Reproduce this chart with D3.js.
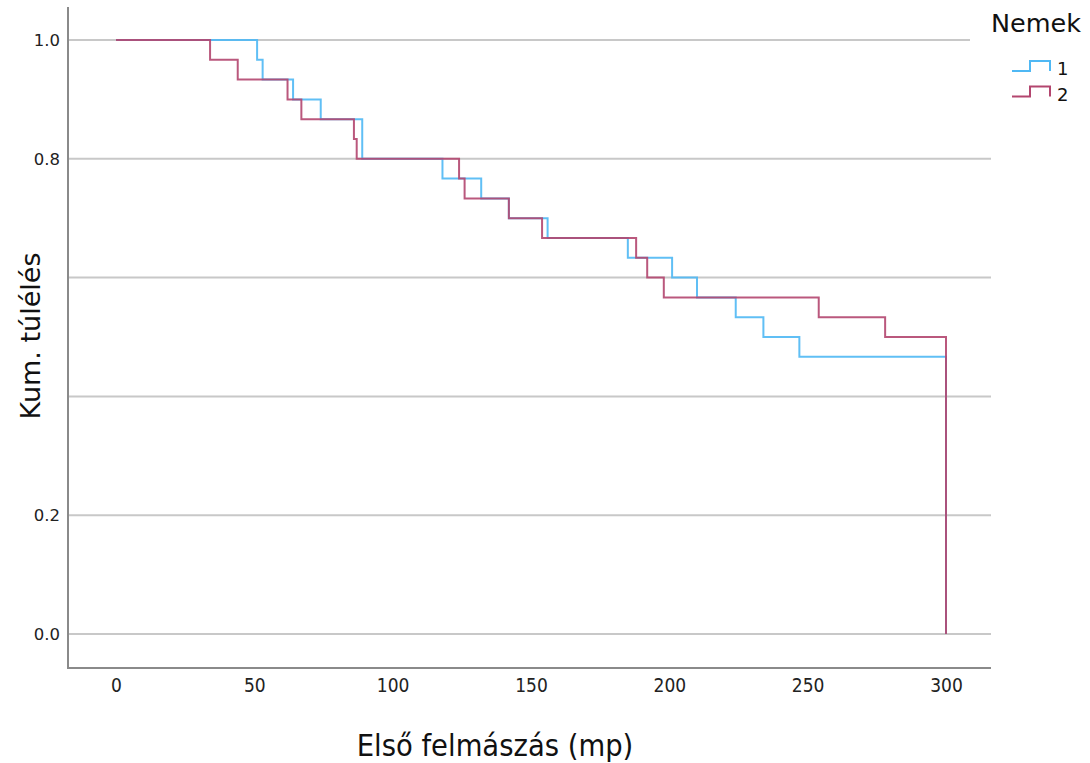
<!DOCTYPE html>
<html>
<head>
<meta charset="utf-8">
<script src="https://cdn.jsdelivr.net/npm/d3@7"></script>
<style>
  body { margin: 0; background: #fff; }
  .narrow { font-family: "DejaVu Sans Condensed", "Liberation Sans Narrow", sans-serif; }
  .wide { font-family: "DejaVu Sans", Verdana, sans-serif; }
</style>
</head>
<body>
<svg></svg>
<script>
// survival data: event time -> survival after it
let group1Times = [0, 51, 53, 64, 74, 89, 118, 132, 142, 156, 185, 201, 210, 224, 234, 247, 300];
let group1Surv  = [1.0, 0.9667, 0.9333, 0.9, 0.8667, 0.8, 0.7667, 0.7333, 0.7, 0.6667, 0.6333, 0.6, 0.5667, 0.5333, 0.5, 0.4667, 0.0];
let group2Times = [0, 34, 44, 62, 67, 86, 87, 124, 126, 142, 154, 188, 192, 198, 254, 278, 300];
let group2Surv  = [1.0, 0.9667, 0.9333, 0.9, 0.8667, 0.8333, 0.8, 0.7667, 0.7333, 0.7, 0.6667, 0.6333, 0.6, 0.5667, 0.5333, 0.5, 0.0];

let xTicks = [0, 50, 100, 150, 200, 250, 300];
let gridValues = [0, 0.2, 0.4, 0.6, 0.8, 1.0];
let yTickLabels = [0, 0.2, 0.8, 1.0]; // 0.4 and 0.6 have no label in the original

let groupNames = ['1', '2'];
let groupColors = ['#4fb8f4', '#b3466f'];

// configuration of svg/plot area
let config = {
  'svg': {},
  'plot': {}
};
config.svg.width = 1090;
config.svg.height = 763;
config.plot.left = 68;
config.plot.right = 991;
config.plot.top = 7;
config.plot.bottom = 668;

let svg = d3.select('body').select('svg');
svg.attr('width', config.svg.width);
svg.attr('height', config.svg.height);

let x = d3.scaleLinear().domain([0, 300]).range([116, 946]);
let y = d3.scaleLinear().domain([0, 1]).range([634, 40]);

// gridlines
svg.append('g')
  .selectAll('line')
  .data(gridValues)
  .enter()
  .append('line')
    .attr('x1', config.plot.left)
    .attr('x2', function(d) { return d === 1 ? 970 : config.plot.right; })
    .attr('y1', function(d) { return y(d); })
    .attr('y2', function(d) { return y(d); })
    .attr('stroke', '#c8c8c8')
    .attr('stroke-width', 2);

// axes
let gx = svg.append('g')
  .attr('transform', translate(0, config.plot.bottom))
  .call(d3.axisBottom(x).tickValues(xTicks).tickSize(0).tickPadding(11).tickFormat(d3.format('d')));
gx.select('.domain').remove();
gx.selectAll('text')
  .attr('class', 'narrow')
  .attr('font-size', 19)
  .attr('fill', '#222');

let gy = svg.append('g')
  .attr('transform', translate(config.plot.left, 0))
  .call(d3.axisLeft(y).tickValues(yTickLabels).tickSize(0).tickPadding(8).tickFormat(d3.format('.1f')));
gy.select('.domain').remove();
gy.selectAll('text')
  .attr('class', 'wide')
  .attr('font-size', 16.5)
  .attr('fill', '#222');

// frame
svg.append('line')
  .attr('x1', config.plot.left).attr('x2', config.plot.left)
  .attr('y1', config.plot.top).attr('y2', config.plot.bottom + 1)
  .attr('stroke', '#8a8a8a').attr('stroke-width', 2);
svg.append('line')
  .attr('x1', config.plot.left).attr('x2', config.plot.right)
  .attr('y1', config.plot.bottom).attr('y2', config.plot.bottom)
  .attr('stroke', '#8a8a8a').attr('stroke-width', 2);

// survival curves
let series = [
  { name: groupNames[0], times: group1Times, surv: group1Surv, color: groupColors[0] },
  { name: groupNames[1], times: group2Times, surv: group2Surv, color: groupColors[1] }
];

let line = d3.line()
  .x(function(d) { return x(d.t); })
  .y(function(d) { return y(d.s); })
  .curve(d3.curveStepAfter);

series.forEach(function(s) {
  let pts = s.times.map(function(t, i) { return { t: t, s: s.surv[i] }; });
  svg.append('path')
    .datum(pts)
    .attr('fill', 'none')
    .attr('stroke', s.color)
    .attr('stroke-width', 2)
    .attr('stroke-opacity', 0.9)
    .attr('d', line);
});

// axis titles
svg.append('text')
  .attr('class', 'narrow')
  .attr('x', 495)
  .attr('y', 756)
  .attr('text-anchor', 'middle')
  .attr('font-size', 30.5)
  .attr('fill', '#111')
  .text('Első felmászás (mp)');

svg.append('text')
  .attr('class', 'wide')
  .attr('transform', translate(40, 336) + ' rotate(-90)')
  .attr('text-anchor', 'middle')
  .attr('font-size', 27)
  .attr('fill', '#111')
  .text('Kum. túlélés');

// legend
svg.append('text')
  .attr('class', 'wide')
  .attr('x', 991)
  .attr('y', 32)
  .attr('font-size', 25.5)
  .attr('fill', '#111')
  .text('Nemek');

let legend = svg.append('g')
  .selectAll('g')
  .data(series)
  .enter()
  .append('g')
    .attr('transform', function(d, i) { return translate(1012, 71 + i * 25.5); });
legend.append('path')
  .attr('fill', 'none')
  .attr('stroke', function(d) { return d.color; })
  .attr('stroke-width', 2)
  .attr('d', 'M0,0 H18 V-10 H38 V0');
legend.append('text')
  .attr('class', 'wide')
  .attr('x', 45)
  .attr('y', 4)
  .attr('font-size', 18)
  .attr('fill', '#111')
  .text(function(d) { return d.name; });

function translate(x, y) {
  return 'translate(' + x + ',' + y + ')';
}
</script>
</body>
</html>
